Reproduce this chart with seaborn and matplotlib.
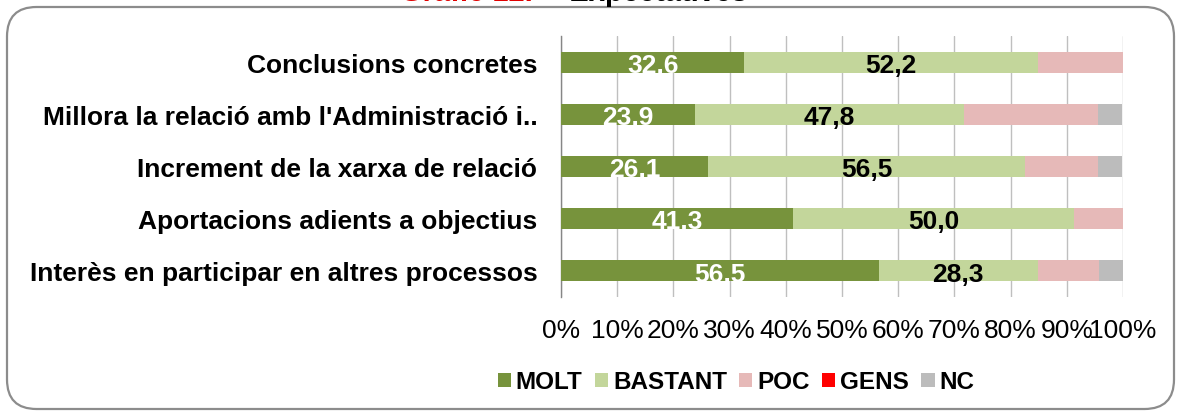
import numpy as np
import pandas as pd
import matplotlib
matplotlib.use("Agg")
import matplotlib.pyplot as plt
import seaborn as sns
from matplotlib.patches import FancyBboxPatch, Patch

categories = [
    "Conclusions concretes",
    "Millora la relació amb l'Administració i..",
    "Increment de la xarxa de relació",
    "Aportacions adients a objectius",
    "Interès en participar en altres processos",
]
series_names = ["MOLT", "BASTANT", "POC", "GENS", "NC"]
molt = [32.6, 23.9, 26.1, 41.3, 56.5]
bastant = [52.2, 47.8, 56.5, 50.0, 28.3]
poc = [15.2, 23.9, 13.0, 8.7, 10.9]
gens = [0.0, 0.0, 0.0, 0.0, 0.0]
nc = [0.0, 4.3, 4.3, 0.0, 4.3]
colors = ["#77933C", "#C3D69B", "#E6B9B8", "#FF0000", "#BCBCBC"]
xticks = list(range(0, 101, 10))

sns.set_style("white")
plt.rcParams["font.family"] = ["Liberation Sans", "DejaVu Sans"]
plt.rcParams["text.color"] = "black"
plt.rcParams["xtick.labelcolor"] = "black"
plt.rcParams["ytick.labelcolor"] = "black"

df = pd.DataFrame({"cat": categories, "MOLT": molt, "BASTANT": bastant,
                   "POC": poc, "GENS": gens, "NC": nc})
cum = df[series_names].cumsum(axis=1)

fig = plt.figure(figsize=(11.82, 4.14), dpi=100)
ax = fig.add_axes([561 / 1182, 1 - 298 / 414, (1123 - 561) / 1182, (298 - 37) / 414])

# stacked bars: draw cumulative totals from the last series to the first
for name, col in reversed(list(zip(series_names, colors))):
    sns.barplot(x=cum[name], y=df["cat"], color=col, width=0.4, orient="h",
                ax=ax, saturation=1, edgecolor="none", linewidth=0, zorder=3)

# value labels
for i in range(len(categories)):
    ax.text(molt[i] / 2, i + 0.05, f"{molt[i]:.1f}".replace(".", ","),
            ha="center", va="center", color="white", fontsize=19,
            fontweight="bold", zorder=5)
    ax.text(molt[i] + bastant[i] / 2, i + 0.05, f"{bastant[i]:.1f}".replace(".", ","),
            ha="center", va="center", color="black", fontsize=19,
            fontweight="bold", zorder=5)

ax.set_xlim(0, 100)
ax.set_ylim(len(categories) - 0.5, -0.5)
ax.set_xticks(xticks)
ax.set_xticklabels([f"{t}%" for t in xticks], fontsize=19)
ax.tick_params(axis="x", length=0, pad=15)
ax.set_yticks(range(len(categories)))
ax.set_yticklabels(categories, fontsize=19, fontweight="bold")
ax.set_yticks(np.arange(-0.5, len(categories), 1), minor=True)
ax.tick_params(axis="y", which="major", length=3, color="#868686", pad=14)
ax.tick_params(axis="y", which="minor", length=9, direction="inout", color="#868686")
ax.grid(axis="x", color="#BFBFBF", linewidth=1, zorder=0)
ax.set_axisbelow(True)
ax.set_xlabel("")
ax.set_ylabel("")
for s in ["top", "right", "bottom"]:
    ax.spines[s].set_visible(False)
ax.spines["left"].set_color("#868686")
ax.spines["left"].set_linewidth(1)

# legend
handles = [Patch(facecolor=c, edgecolor="none", label=n) for n, c in zip(series_names, colors)]
fig.legend(handles=handles, loc="center", bbox_to_anchor=(736 / 1182, 1 - 383 / 414),
           ncol=5, frameon=False, prop={"size": 17.5, "weight": "bold"},
           handlelength=0.55, handleheight=0.55, handletextpad=0.2,
           columnspacing=0.5)

# outer rounded frame
frame = FancyBboxPatch((7 / 1182, 4 / 414), (1174 - 7) / 1182, (406 - 4) / 414,
                       boxstyle="round,pad=0,rounding_size=0.025",
                       transform=fig.transFigure, facecolor="none",
                       edgecolor="#8C8C8C", linewidth=1.6, mutation_aspect=1182 / 414)
fig.patches.append(frame)

# title, cut off at the top edge as in the source
fig.text(400 / 1182, 1 - 1 / 414, "Gràfic 12.", color="#E00000", fontsize=21,
         fontweight="bold", ha="left", va="baseline")
fig.text(545 / 1182, 1 - 1 / 414, "– Expectatives", color="black", fontsize=21,
         fontweight="bold", ha="left", va="baseline")

fig.savefig("out.png", dpi=100)
